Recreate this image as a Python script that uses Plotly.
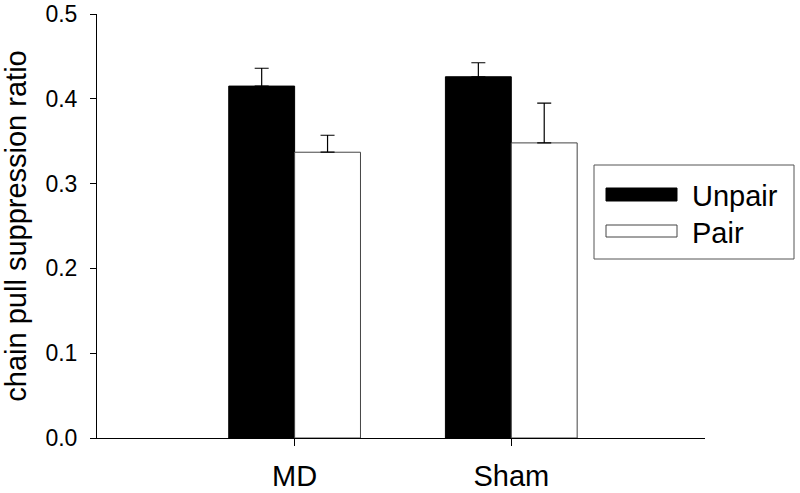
import plotly.graph_objects as go

groups = ["MD", "Sham"]
unpair = [0.415, 0.426]
unpair_err = [0.021, 0.0165]
pair = [0.337, 0.348]
pair_err = [0.020, 0.047]
legend_labels = ["Unpair", "Pair"]
yticks = [0.0, 0.1, 0.2, 0.3, 0.4, 0.5]

W, H = 800, 493
L, R, T, B = 97, 95, 14, 55
pw, ph = W - L - R, H - T - B


def px(x):
    return (x - L) / pw


def py(y):
    return (H - B - y) / ph


font = "Liberation Sans, Arial, sans-serif"

fig = go.Figure()
fig.add_trace(go.Bar(x=groups, y=unpair, name="Unpair",
                     marker=dict(color="black", line=dict(color="black", width=1)),
                     error_y=dict(type="data", array=unpair_err, arrayminus=[0, 0],
                                  color="black", thickness=1.2, width=7),
                     showlegend=False))
fig.add_trace(go.Bar(x=groups, y=pair, name="Pair",
                     marker=dict(color="white", line=dict(color="#444", width=1)),
                     error_y=dict(type="data", array=pair_err, arrayminus=[0, 0],
                                  color="black", thickness=1.2, width=7),
                     showlegend=False))

# legend box drawn by hand (wide swatches like the original)
shapes = [
    dict(type="rect", xref="paper", yref="paper", x0=px(594), x1=px(794), y0=py(259), y1=py(165),
         line=dict(color="#555", width=1), fillcolor="white"),
    dict(type="rect", xref="paper", yref="paper", x0=px(606), x1=px(677), y0=py(201), y1=py(188),
         line=dict(color="black", width=1), fillcolor="black"),
    dict(type="rect", xref="paper", yref="paper", x0=px(606), x1=px(677), y0=py(237), y1=py(225),
         line=dict(color="#444", width=1), fillcolor="white"),
]
annotations = [
    dict(text=legend_labels[0], xref="paper", yref="paper", x=px(690), y=py(196),
         xanchor="left", yanchor="middle", showarrow=False, font=dict(size=29, color="black")),
    dict(text=legend_labels[1], xref="paper", yref="paper", x=px(690), y=py(233),
         xanchor="left", yanchor="middle", showarrow=False, font=dict(size=29, color="black")),
]

fig.update_layout(
    width=W, height=H,
    margin=dict(l=L, r=R, t=T, b=B),
    plot_bgcolor="white", paper_bgcolor="white",
    font=dict(family=font, color="black"),
    barmode="group", bargap=0.392, bargroupgap=0,
    shapes=shapes, annotations=annotations,
    xaxis=dict(range=[-0.912, 1.894], showline=True, linecolor="black", linewidth=1,
               ticks="outside", ticklen=7, tickcolor="black", showgrid=False,
               tickfont=dict(size=29), ticklabelstandoff=5, automargin=False),
    yaxis=dict(range=[0, 0.5], tickvals=yticks, ticktext=[f"{v:.1f}" for v in yticks],
               showline=True, linecolor="black", linewidth=1, ticks="outside", ticklen=6,
               tickcolor="black", showgrid=False, zeroline=False, tickfont=dict(size=23),
               ticklabelstandoff=8, automargin=False,
               title=dict(text="chain pull suppression ratio", font=dict(size=29), standoff=10)),
)

# the page's default body margin shifts the chart; remove it
fig.write_html("out.html", config={"displayModeBar": False},
               post_script="document.body.style.margin='0';")
